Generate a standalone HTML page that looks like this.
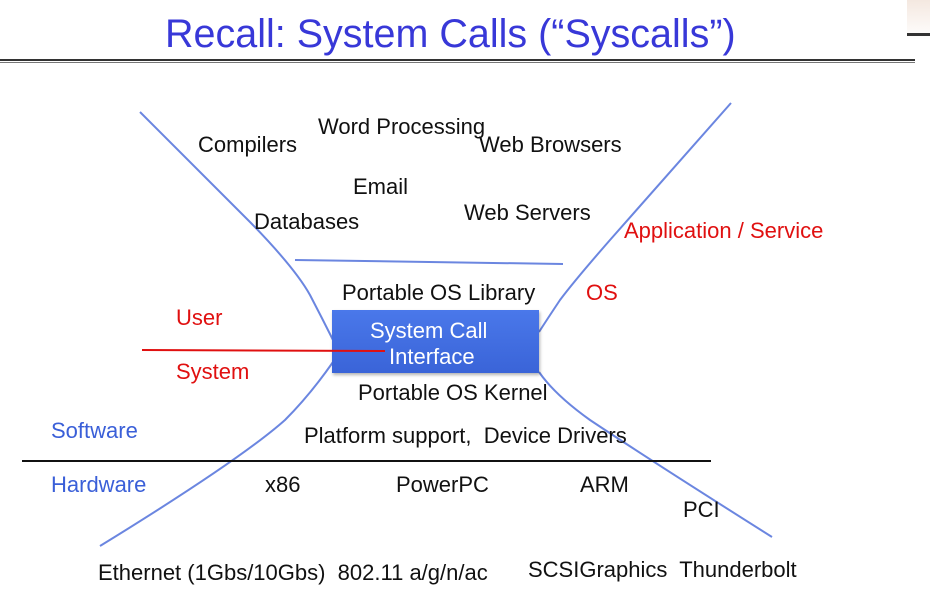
<!DOCTYPE html>
<html><head><style>
body{margin:0;width:930px;height:597px;background:#fff;position:relative;overflow:hidden;font-family:"Liberation Sans",sans-serif}
.t{position:absolute;font-size:22px;color:#111;white-space:nowrap;line-height:1}
.r{color:#e01010}.b{color:#3a5fd8}
</style></head><body>
<div style="position:absolute;left:165px;top:12px;font-size:39.5px;color:#3838d8;white-space:nowrap">Recall: System Calls (“Syscalls”)</div>
<div style="position:absolute;left:0;top:59px;width:915px;height:2px;background:#333"></div>
<div style="position:absolute;left:0;top:62px;width:915px;height:1px;background:#777"></div>
<div style="position:absolute;left:907px;top:0;width:23px;height:40px;background:linear-gradient(#f4e8e0,#fff);"></div>
<div style="position:absolute;left:907px;top:33px;width:23px;height:3px;background:#333"></div>
<svg width="930" height="597" style="position:absolute;left:0;top:0">
<g fill="none" stroke="#6b86e0" stroke-width="2">
<path d="M140 112 L250 222 Q295 268 310 295 Q322 318 333 340"/>
<path d="M333 362 Q310 395 285 420 Q240 460 100 546"/>
<path d="M731 103 L610 240 Q575 280 560 300 Q548 318 539 332"/>
<path d="M539 372 Q555 395 590 420 Q650 460 772 537"/>
<path d="M295 260 L563 264"/>
</g>
<line x1="22" y1="461" x2="711" y2="461" stroke="#111" stroke-width="2"/>
</svg>
<div style="position:absolute;left:332px;top:310px;width:207px;height:63px;background:linear-gradient(#4a78ea,#3a64d8);box-shadow:1px 2px 3px rgba(0,0,0,.3)"></div>
<svg width="930" height="597" style="position:absolute;left:0;top:0">
<line x1="142" y1="350" x2="385" y2="351" stroke="#e01010" stroke-width="2"/>
</svg>
<div class="t" style="left:370px;top:320px;color:#fff">System Call</div>
<div class="t" style="left:389px;top:346px;color:#fff">Interface</div>
<div class="t" style="left:318px;top:116px">Word Processing</div>
<div class="t" style="left:198px;top:134px">Compilers</div>
<div class="t" style="left:479px;top:134px">Web Browsers</div>
<div class="t" style="left:353px;top:176px">Email</div>
<div class="t" style="left:464px;top:202px">Web Servers</div>
<div class="t" style="left:254px;top:211px">Databases</div>
<div class="t r" style="left:624px;top:220px">Application / Service</div>
<div class="t" style="left:342px;top:282px">Portable OS Library</div>
<div class="t r" style="left:586px;top:282px">OS</div>
<div class="t r" style="left:176px;top:307px">User</div>
<div class="t r" style="left:176px;top:361px">System</div>
<div class="t" style="left:358px;top:382px">Portable OS Kernel</div>
<div class="t b" style="left:51px;top:420px">Software</div>
<div class="t" style="left:304px;top:425px">Platform support,&nbsp; Device Drivers</div>
<div class="t b" style="left:51px;top:474px">Hardware</div>
<div class="t" style="left:265px;top:474px">x86</div>
<div class="t" style="left:396px;top:474px">PowerPC</div>
<div class="t" style="left:580px;top:474px">ARM</div>
<div class="t" style="left:683px;top:499px">PCI</div>
<div class="t" style="left:98px;top:562px">Ethernet (1Gbs/10Gbs)&nbsp; 802.11 a/g/n/ac</div>
<div class="t" style="left:528px;top:559px">SCSIGraphics&nbsp; Thunderbolt</div>
</body></html>
